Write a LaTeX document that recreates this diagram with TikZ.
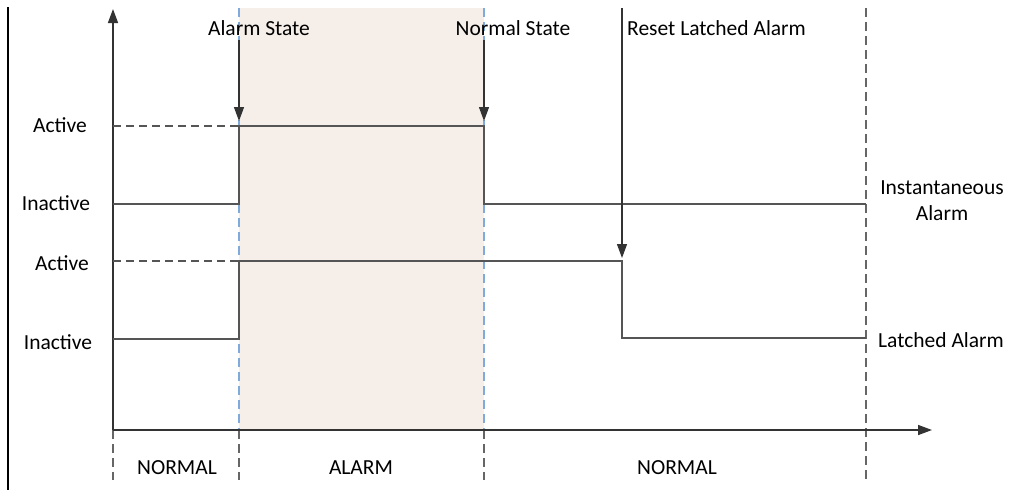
\documentclass[tikz,border=0pt]{standalone}
\usepackage{fontspec}
\setmainfont{Carlito}
\usetikzlibrary{arrows.meta}
\definecolor{sigc}{HTML}{555555}
\definecolor{axisc}{HTML}{333333}
\definecolor{shadec}{HTML}{F6EEE8}
\definecolor{blued}{HTML}{7FAADC}
\definecolor{grayd}{HTML}{666666}
\begin{document}
\begin{tikzpicture}[x=1pt,y=-1pt,
  lbl/.style={font=\fontsize{21.5}{26}\selectfont, text=black, inner sep=0pt},
  sig/.style={draw=sigc, line width=1.5pt},
  sigdash/.style={draw=sigc, line width=1.5pt, dash pattern=on 8pt off 5pt},
  axis/.style={draw=axisc, line width=1.5pt, -{Triangle[length=14pt,width=10pt]}},
  arr/.style={draw=axisc, line width=1.2pt, -{Triangle[length=14pt,width=10pt]}},
  bdash/.style={draw=blued, line width=1.3pt, dash pattern=on 9pt off 5pt},
  gdash/.style={draw=grayd, line width=1.2pt, dash pattern=on 9pt off 5pt}]
\useasboundingbox (0,0) rectangle (1011,490);
\fill[white] (0,0) rectangle (1011,490);
% frame edge
\draw[draw=black, line width=1.2pt] (8,7) -- (8,490);
% alarm shading
\fill[shadec] (239,8) rectangle (484,430);
% coordinates
\coordinate (o) at (113,430);
\coordinate (ytop) at (113,9);
\coordinate (xend) at (932,430);
% dashed verticals
\draw[bdash] (239,8) -- (239,430);
\draw[bdash] (484,8) -- (484,430);
\draw[gdash] (113,430) -- (113,480);
\draw[gdash] (239,430) -- (239,480);
\draw[gdash] (484,430) -- (484,480);
\draw[gdash] (866,8) -- (866,480);
% axes
\draw[axis] (o) -- (ytop);
\draw[axis] (o) -- (xend);
% instantaneous alarm signal
\draw[sigdash] (113,126) -- (239,126);
\draw[sig] (113,204) -- (239,204) -- (239,126) -- (484,126) -- (484,204) -- (866,204);
% latched alarm signal
\draw[sigdash] (113,261) -- (239,261);
\draw[sig] (113,339) -- (239,339) -- (239,261) -- (622,261) -- (622,338) -- (866,338);
% labels
\node[lbl] (a1) at (60,125) {Active};
\node[lbl] (i1) at (56,203) {Inactive};
\node[lbl] (a2) at (62,263) {Active};
\node[lbl] (i2) at (58,342) {Inactive};
\node[lbl, align=center] (inst) at (942,201) {Instantaneous\\Alarm};
\node[lbl, anchor=west] (lat) at (878,340) {Latched Alarm};
\node[lbl] (as) at (259,28) {Alarm State};
\node[lbl] (ns) at (513,28) {Normal State};
\node[lbl, anchor=west] (rl) at (627,28) {Reset Latched Alarm};
\node[lbl] (n1) at (177,468) {NORMAL};
\node[lbl] (al) at (361,468) {ALARM};
\node[lbl] (n2) at (677,468) {NORMAL};
% event arrows
\coordinate (asS) at (239,40);
\coordinate (asE) at (239,121);
\coordinate (nsS) at (484,40);
\coordinate (nsE) at (484,121);
\coordinate (rlS) at (622,8);
\coordinate (rlE) at (622,258);
\draw[arr] (asS) -- (asE);
\draw[arr] (nsS) -- (nsE);
\draw[arr] (rlS) -- (rlE);
\end{tikzpicture}
\end{document}
